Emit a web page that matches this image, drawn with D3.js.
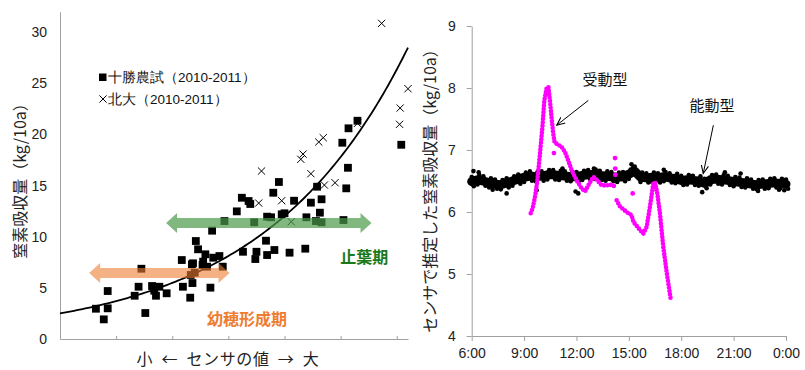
<!DOCTYPE html>
<html>
<head>
<meta charset="utf-8">
<script src="https://cdn.jsdelivr.net/npm/d3@7"></script>
<style>
  body { margin: 0; background: #fff; }
  text { font-family: "Liberation Sans", Arial, sans-serif; }
  .jp { font-family: "Noto Sans CJK JP", "Noto Sans", sans-serif; }
</style>
</head>
<body>
<div id="chart"></div>
<script>
// ---- left panel: sensor value vs N uptake ----
const tokachiX = [0.64,0.78,0.85,0.85,1.33,1.40,1.45,1.52,1.64,1.68,1.71,1.77,1.90,2.17,2.19,2.32,2.33,2.36,2.35,2.42,2.46,2.54,2.59,2.62,2.68,2.71,2.73,2.84,2.90,2.93,3.15,3.24,3.26,3.36,3.39,3.46,3.48,3.50,3.67,3.69,3.69,3.76,3.80,3.82,3.90,3.95,4.00,4.09,4.17,4.37,4.39,4.47,4.56,4.58,4.63,4.66,4.66,5.03,5.05,5.10,5.13,5.14,5.30,6.08,2.40,2.55,2.37];
const tokachiY = [2.96,1.92,4.69,3.00,4.23,5.11,6.87,2.54,5.18,4.72,4.23,5.11,4.47,7.72,5.11,4.04,6.26,5.47,7.30,9.58,8.77,7.23,8.28,7.07,5.02,10.59,7.95,8.11,7.07,11.53,12.48,13.81,8.53,13.49,13.20,11.41,7.82,8.53,9.61,11.96,8.21,11.90,14.30,8.70,15.35,12.19,12.29,8.44,13.52,8.83,11.90,13.33,11.53,14.89,12.35,13.66,11.41,19.19,11.63,14.73,16.74,20.60,21.34,18.99,6.48,7.56,7.40];
const hokudaiX = [5.73,6.20,6.06,6.05,5.30,3.59,3.54,3.95,4.12,4.29,4.33,4.47,4.61,4.69,4.71,4.90];
const hokudaiY = [30.86,24.47,22.58,20.99,21.08,16.42,13.29,13.52,11.47,17.57,18.08,16.16,19.26,19.68,15.05,15.28];
const leftYTicks = [0, 5, 10, 15, 20, 25, 30];
const leftXTicks = [1, 2, 3, 4, 5, 6];
// exponential trend line y = a * exp(b * x)
const trendA = 2.5, trendB = 0.3925;
// growth stage arrows: [from, to, level]
const stageBooting = [0.52, 3.02, 6.45];
const stageFlag = [1.89, 5.55, 11.34];

// ---- right panel: diurnal sensor estimate ----
const activeT = d3.range(6, 24.01, 1 / 3);
const activeV = [6.49,6.52,6.50,6.47,6.45,6.44,6.47,6.50,6.53,6.56,6.58,6.57,6.58,6.60,6.60,6.59,6.58,6.57,
  6.57,6.59,6.60,6.61,6.59,6.58,6.57,6.56,6.57,6.61,6.66,6.56,6.55,6.56,6.55,6.57,6.55,6.54,
  6.51,6.52,6.51,6.50,6.46,6.52,6.53,6.52,6.51,6.49,6.48,6.47,6.45,6.44,6.45,6.46,6.47,6.46,6.45];
const activeOut = [[6.1,6.66],[6.4,6.64],[7.2,6.36],[8.0,6.30],[9.72,6.35],[11.2,6.70],[11.95,6.33],[12.1,6.30],
  [13.0,6.70],[15.15,6.77],[15.25,6.72],[17.0,6.68],[19.2,6.32],[20.5,6.64],[21.4,6.62],[22.4,6.34],[23.6,6.36],[23.9,6.35]];
const passiveA = [[9.38,5.98],[9.49,6.06],[9.63,6.25],[9.76,6.51],[9.91,6.94],[10.05,7.37],[10.16,7.80],[10.29,8.00],
  [10.39,8.02],[10.48,7.80],[10.58,7.50],[10.67,7.26],[10.75,7.12],[10.87,7.10],[11.15,7.05],[11.34,6.97],[11.53,6.83],
  [11.73,6.67],[12.01,6.51],[12.30,6.38],[12.49,6.33],[12.68,6.43],[12.97,6.57],[13.16,6.52],[13.44,6.43],[13.73,6.43],
  [14.02,6.44],[14.21,6.41]];
const passiveB = [[14.30,6.19],[14.49,6.09],[14.87,6.00],[15.16,5.95],[15.26,5.84],[15.64,5.71],[15.83,5.65],[16.02,5.76],
  [16.21,6.09],[16.40,6.46],[16.50,6.48],[16.63,6.30],[16.78,5.98],[16.97,5.44],[17.17,5.02],[17.40,4.59]];
const passiveStray = [[10.71,6.95],[14.21,6.87],[14.22,6.70],[14.23,6.60],[15.22,6.30]];
const rightYTicks = [4, 5, 6, 7, 8, 9];
const rightXTicks = [6, 9, 12, 15, 18, 21, 24];

const svg = d3.select('#chart').append('svg')
  .attr('width', 805).attr('height', 370);

const defs = svg.append('defs');
defs.append('marker').attr('id', 'open')
  .attr('viewBox', '0 0 10 10').attr('refX', 9).attr('refY', 5)
  .attr('markerWidth', 9).attr('markerHeight', 9).attr('orient', 'auto')
  .append('path').attr('d', 'M0,1 L9,5 L0,9').attr('fill', 'none')
  .attr('stroke', '#000').attr('stroke-width', 1.2);

// ===== Left panel =====
const xL = d3.scaleLinear().domain([0, 6.2]).range([60, 408]);
const yL = d3.scaleLinear().domain([0, 32]).range([339, 11.7]);
const left = svg.append('g');

const yAxisL = left.append('g').attr('transform', 'translate(60,0)')
  .call(d3.axisLeft(yL).tickValues(leftYTicks).tickSize(0).tickSizeOuter(0).tickPadding(13));
yAxisL.select('.domain').attr('stroke', '#a0a0a0');
yAxisL.selectAll('text').style('font-size', '14px').attr('fill', '#222');

const xAxisL = left.append('g').attr('transform', 'translate(0,339)')
  .call(d3.axisBottom(xL).tickValues(leftXTicks).tickSize(-3).tickSizeOuter(0).tickFormat(''));
xAxisL.select('.domain').attr('stroke', '#a0a0a0');
xAxisL.selectAll('line').attr('stroke', '#a0a0a0');

// trend line
const trendX = d3.range(0, 6.2001, 0.05);
left.append('path')
  .datum(trendX)
  .attr('fill', 'none').attr('stroke', '#000').attr('stroke-width', 1.8)
  .attr('d', d3.line().x(d => xL(d)).y(d => yL(trendA * Math.exp(trendB * d))));

// 十勝農試 squares
const sq = 7.8;
left.selectAll('rect.tokachi')
  .data(tokachiX.map((x, i) => [x, tokachiY[i]]))
  .join('rect').attr('class', 'tokachi')
  .attr('x', d => xL(d[0]) - sq / 2).attr('y', d => yL(d[1]) - sq / 2)
  .attr('width', sq).attr('height', sq).attr('fill', '#000');

// 北大 crosses
const cr = 3.6;
const crossPath = (cx, cy) =>
  `M${cx - cr},${cy - cr}L${cx + cr},${cy + cr}M${cx - cr},${cy + cr}L${cx + cr},${cy - cr}`;
left.selectAll('path.hokudai')
  .data(hokudaiX.map((x, i) => [x, hokudaiY[i]]))
  .join('path').attr('class', 'hokudai')
  .attr('d', d => crossPath(xL(d[0]), yL(d[1])))
  .attr('stroke', '#000').attr('stroke-width', 1).attr('fill', 'none');

// double-headed block arrows for growth stages
function blockArrow(s) {
  const x0 = xL(s[0]), x1 = xL(s[1]), y = yL(s[2]);
  const sh = 5, hh = 10, hl = 11;
  return `M${x0},${y}L${x0 + hl},${y - hh}L${x0 + hl},${y - sh}L${x1 - hl},${y - sh}L${x1 - hl},${y - hh}` +
    `L${x1},${y}L${x1 - hl},${y + hh}L${x1 - hl},${y + sh}L${x0 + hl},${y + sh}L${x0 + hl},${y + hh}Z`;
}
left.append('path').attr('d', blockArrow(stageBooting)).attr('fill', '#ED7D31').attr('opacity', 0.6);
left.append('path').attr('d', blockArrow(stageFlag)).attr('fill', '#4a9a4a').attr('opacity', 0.7);

left.append('text').attr('class', 'jp')
  .attr('x', xL(5.42)).attr('y', yL(8.0)).attr('dy', '0.35em')
  .attr('text-anchor', 'middle').style('font-size', '16px').style('font-weight', 'bold')
  .attr('fill', '#1a7a1a').text('止葉期');
left.append('text').attr('class', 'jp')
  .attr('x', xL(3.33)).attr('y', yL(1.95)).attr('dy', '0.35em')
  .attr('text-anchor', 'middle').style('font-size', '16px').style('font-weight', 'bold')
  .attr('fill', '#ED7D31').text('幼穂形成期');

// legend
const legend = left.append('g').attr('class', 'jp').style('font-size', '13.5px').attr('fill', '#111');
legend.append('rect').attr('x', 99).attr('y', 73.5).attr('width', 7.5).attr('height', 7.5).attr('fill', '#000');
legend.append('text').attr('x', 108).attr('y', 82).text('十勝農試（2010-2011）');
legend.append('path').attr('d', crossPath(103, 99)).attr('stroke', '#000').attr('stroke-width', 1);
legend.append('text').attr('x', 108).attr('y', 104).text('北大（2010-2011）');

left.append('text').attr('class', 'jp')
  .attr('transform', 'translate(20,177) rotate(-90)').attr('dy', '0.35em')
  .attr('text-anchor', 'middle').style('font-size', '16px').attr('fill', '#222')
  .text('窒素吸収量（kg/10a）');
left.append('text').attr('class', 'jp')
  .attr('x', 228).attr('y', 359).attr('dy', '0.35em')
  .attr('text-anchor', 'middle').style('font-size', '16px').style('letter-spacing', '0.6px')
  .attr('fill', '#222')
  .attr('xml:space', 'preserve')
  .text('小  ←  センサの値  →  大');

// ===== Right panel =====
const xR = d3.scaleLinear().domain([6, 24]).range([471.7, 786]);
const yR = d3.scaleLinear().domain([4, 9]).range([336, 26]);
const right = svg.append('g');

const yAxisR = right.append('g').attr('transform', 'translate(471.7,0)')
  .call(d3.axisLeft(yR).tickValues(rightYTicks).tickSize(5).tickSizeOuter(0).tickPadding(11)
    .tickFormat(d3.format('d')));
yAxisR.selectAll('.domain, line').attr('stroke', '#a0a0a0');
yAxisR.selectAll('text').style('font-size', '14px').attr('fill', '#222');

const xAxisR = right.append('g').attr('transform', 'translate(0,336)')
  .call(d3.axisBottom(xR).tickValues(rightXTicks).tickSize(5).tickSizeOuter(0).tickPadding(7)
    .tickFormat(h => `${h % 24}:00`));
xAxisR.selectAll('.domain, line').attr('stroke', '#a0a0a0');
xAxisR.selectAll('text').style('font-size', '14px').attr('fill', '#222');

// 能動型 (active) – dense noisy band
const active = activeT.map((t, i) => [t, activeV[i]]);
right.append('path').datum(active)
  .attr('fill', 'none').attr('stroke', '#000').attr('stroke-width', 9)
  .attr('stroke-linejoin', 'round').attr('stroke-linecap', 'round')
  .attr('d', d3.line().x(d => xR(d[0])).y(d => yR(d[1])));
const edge = [];
active.forEach((d, i) => {
  edge.push([d[0] + (i % 2 ? 0.1 : 0), d[1] + 0.075]);
  edge.push([d[0] + (i % 2 ? 0 : 0.12), d[1] - 0.075]);
});
right.selectAll('circle.edge').data(edge.concat(activeOut)).join('circle').attr('class', 'edge')
  .attr('cx', d => xR(d[0])).attr('cy', d => yR(d[1])).attr('r', 2.3).attr('fill', '#000');

// 受動型 (passive) – magenta dotted trace
const lineR = d3.line().x(d => xR(d[0])).y(d => yR(d[1]));
[passiveA, passiveB].forEach(seg => {
  right.append('path').datum(seg)
    .attr('fill', 'none').attr('stroke', '#ff00ff').attr('stroke-width', 4.6)
    .attr('stroke-linecap', 'round').attr('stroke-linejoin', 'round')
    .attr('stroke-dasharray', '0 3.4')
    .attr('d', lineR);
});
right.selectAll('circle.stray').data(passiveStray).join('circle').attr('class', 'stray')
  .attr('cx', d => xR(d[0])).attr('cy', d => yR(d[1])).attr('r', 2.4).attr('fill', '#ff00ff');

// annotations
right.append('line')
  .attr('x1', xR(12.68)).attr('y1', yR(7.80)).attr('x2', xR(10.87)).attr('y2', yR(7.40))
  .attr('stroke', '#000').attr('stroke-width', 1).attr('marker-end', 'url(#open)');
right.append('line')
  .attr('x1', xR(19.84)).attr('y1', yR(7.40)).attr('x2', xR(19.26)).attr('y2', yR(6.62))
  .attr('stroke', '#000').attr('stroke-width', 1).attr('marker-end', 'url(#open)');
right.append('text').attr('class', 'jp')
  .attr('x', xR(13.63)).attr('y', yR(8.13)).attr('dy', '0.35em')
  .attr('text-anchor', 'middle').style('font-size', '15px').attr('fill', '#111').text('受動型');
right.append('text').attr('class', 'jp')
  .attr('x', xR(19.76)).attr('y', yR(7.71)).attr('dy', '0.35em')
  .attr('text-anchor', 'middle').style('font-size', '15px').attr('fill', '#111').text('能動型');

right.append('text').attr('class', 'jp')
  .attr('transform', 'translate(430,187) rotate(-90)').attr('dy', '0.35em')
  .attr('text-anchor', 'middle').style('font-size', '16px').attr('fill', '#222')
  .text('センサで推定した窒素吸収量（kg/10a）');
</script>
</body>
</html>
